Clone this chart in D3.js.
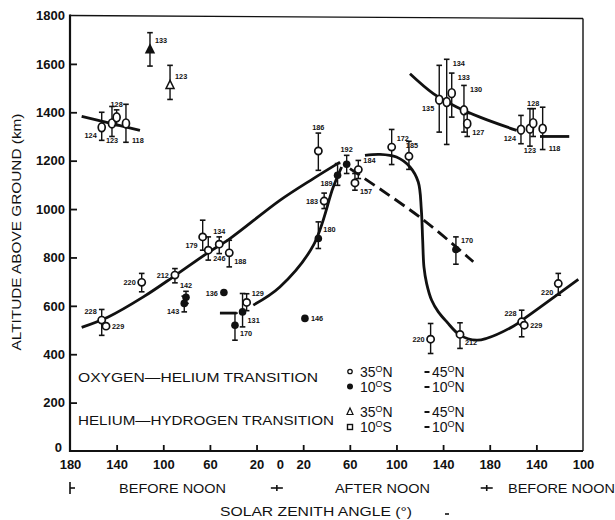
<!DOCTYPE html>
<html><head><meta charset="utf-8">
<script src="https://cdn.jsdelivr.net/npm/d3@7/dist/d3.min.js"></script>
<style>body{margin:0;background:#fff}svg{display:block}</style>
</head><body>
<svg id="c" width="615" height="520"></svg>
<script>
// ---------- axis ticks ----------
const xTickPeriod = ["BN","BN","BN","BN","BN","AN","AN","AN","AN","AN","AN","BN2","BN2"];
const xTickAngle  = [180,140,100,60,20,0,20,60,100,140,180,140,100];
const yTicks = [0,200,400,600,800,1000,1200,1400,1600,1800];

// ---------- Oxygen-Helium transition, 35°N (open circles) ----------
const oHe35Label  = ["228","229","220","212","179","246","134","188","129","186","183","157","184","172","185","220","212","228","229","220"];
const oHe35Period = ["BN","BN","BN","BN","BN","BN","BN","BN","BN","AN","AN","AN","AN","AN","AN","AN","AN","BN2","BN2","BN2"];
const oHe35Angle  = [152.8,149.1,118.5,90,66.2,61.4,52,43.4,28.5,33,38,64.4,67.3,95.9,110.7,129.3,154.5,152.6,150.4,121.2];
const oHe35Alt    = [541,516,697,727,885,830,855,819,614,1240,1033,1108,1163,1256,1218,462,482,534,520,692];
const oHe35Lo     = [478,null,658,695,830,789,816,761,580,1160,1002,1078,1126,1184,1164,403,424,472,null,644];
const oHe35Hi     = [585,null,734,754,954,885,885,871,650,1314,1066,1147,1201,1329,1280,527,530,582,null,734];

// ---------- Oxygen-Helium transition, 10°S (filled circles) ----------
const oHe10Label  = ["142","143","136","131","170","146","180","189","192","170"];
const oHe10Period = ["BN","BN","BN","BN","BN","AN","AN","AN","AN","AN"];
const oHe10Angle  = [80.5,82,48,32,38.5,21.5,33,49.5,57.3,151];
const oHe10Alt    = [635,610,655,575,520,548,878,1140,1185,833];
const oHe10Lo     = [610,575,null,513,458,null,837,1098,1147,772];
const oHe10Hi     = [660,640,null,651,570,null,947,1188,1222,885];

// ---------- Helium-Hydrogen transition, 35°N (triangles) ----------
const hH35Label  = ["133","123"];
const hH35Period = ["BN","BN"];
const hH35Angle  = [111.4,94.2];
const hH35Alt    = [1658,1511];
const hH35Lo     = [1591,1453];
const hH35Hi     = [1729,1594];

// ---------- Helium-Hydrogen transition, 10°S ----------
const hH10Label  = ["124","123","128","118","135","134","133","130","127","124","123","128","118"];
const hH10Period = ["BN","BN","BN","BN","AN","AN","AN","AN","AN","BN2","BN2","BN2","BN2"];
const hH10Angle  = [152.8,144,140,132,136.7,143.1,147.4,157.9,160.7,153.2,145.5,142.7,134.6];
const hH10Alt    = [1338,1354,1379,1354,1452,1442,1479,1408,1353,1328,1332,1355,1332];
const hH10Lo     = [1284,1300,1345,1276,1318,1267,1380,1318,1300,1270,1260,1300,1246];
const hH10Hi     = [1400,1424,1410,1433,1594,1619,1562,1511,1395,1387,1415,1415,1421];

// ---------- fitted curves: [period, angle, altitude] ----------
const curveO35a = [["BN",170,511],["BN",147.2,554],["BN",117.1,637],["BN",91.4,720],["BN",62.8,816],["BN",42.8,878],["AN",0,1036],["AN",28.7,1126],["AN",51.6,1194]];
const curveO35b = [["AN",73,1222],["AN",85.9,1226],["AN",100,1215],["AN",111.6,1174],["AN",118.7,1112],["AN",121.3,1000],["AN",122.5,870],["AN",123.6,760],["AN",125.9,692],["AN",130.2,623],["AN",135.9,575],["AN",143.1,534],["AN",154.5,479],["AN",168.8,458],["AN",177,465],["BN2",159.8,516],["BN2",148.3,554],["BN2",104,709]];
const curveO10a = [["BN",51.4,570],["BN",37.1,570]];
const curveO10b = [["BN",22.8,603],["AN",0,678],["AN",28.7,850],["AN",45.8,1091],["AN",53,1174]];
const curveO10c = [["AN",60.1,1167],["AN",121.6,961],["AN",165.9,782]];
const curveH10a = [["BN",170,1383],["BN",120,1325]];
const curveH10b = [["AN",111.6,1559],["AN",131.6,1477],["AN",151.6,1422],["AN",171.6,1380],["BN2",156.9,1325]];
const curveH10c = [["BN2",136.9,1300],["BN2",111.8,1300]];

// ---------- label placement codes (layout only) ----------
const oHe35Place = ["tl","r","l","l","bl","br","t","br","tr","t","l","br","tr","tr","tc","l","br","tl","r","bl"];
const oHe10Place = ["t","bl","l","br","br","r","tr","bl","t","tr"];
const hH35Place  = ["tr","tr"];
const hH10Place  = ["bl","b","t","rb","bl","rt","rt","rt","br","bl","b","t","rb"];

// ================= drawing =================
const svg = d3.select("#c");
const INK = "#111";
const FONT = "'Liberation Sans', Arial, sans-serif";
const L = 70, R = 583, T = 15.5, B = 451;
const uOf = (p,a) => p==="BN" ? 180-a : p==="AN" ? 180+a : 540-a;
const x = d3.scaleLinear().domain([0,440]).range([L,R]);
const y = d3.scaleLinear().domain([0,1800]).range([B,T]);

// frame
svg.append("line").attr("x1",L).attr("x2",L).attr("y1",T-1).attr("y2",B+1).attr("stroke",INK).attr("stroke-width",2.2);
svg.append("line").attr("x1",L).attr("x2",R).attr("y1",B).attr("y2",B).attr("stroke",INK).attr("stroke-width",2.2);
svg.append("line").attr("x1",L).attr("x2",R).attr("y1",T).attr("y2",T+3).attr("stroke",INK).attr("stroke-width",1.3);
svg.append("line").attr("x1",R).attr("x2",R).attr("y1",T+3).attr("y2",B).attr("stroke",INK).attr("stroke-width",1.4);

// y axis
const yAxis = d3.axisLeft(y).tickValues(yTicks).tickSize(-7).tickPadding(5).tickFormat(d3.format("d"));
const gy = svg.append("g").attr("transform",`translate(${L},0)`).call(yAxis);
gy.select(".domain").remove();
gy.selectAll(".tick line").attr("stroke",INK).attr("stroke-width",1.8).filter(d=>d===0||d===1800).remove();
gy.selectAll(".tick text").attr("font-family",FONT).attr("font-size",13).attr("font-weight","bold").attr("fill",INK)
  .filter(d=>d===0).attr("dy","0.05em").attr("x",-8);

// x axis
const xTickU = xTickPeriod.map((p,i)=>uOf(p,xTickAngle[i]));
const xAxis = d3.axisBottom(x).tickValues(xTickU).tickSize(-6).tickPadding(9).tickFormat((d,i)=>String(xTickAngle[i]));
const gx = svg.append("g").attr("transform",`translate(0,${B})`).call(xAxis);
gx.select(".domain").remove();
gx.selectAll(".tick line").attr("stroke",INK).attr("stroke-width",1.8).filter(d=>d===0||d===180||d===440).remove();
gx.selectAll(".tick text").attr("font-family",FONT).attr("font-size",13).attr("font-weight","bold").attr("fill",INK);

// curves
const line = d3.line().x(d=>x(uOf(d[0],d[1]))).y(d=>y(d[2])).curve(d3.curveCatmullRom.alpha(0.5));
function drawCurve(data, dashed){
  svg.append("path").attr("d",line(data)).attr("fill","none").attr("stroke",INK)
    .attr("stroke-width",2.8).attr("stroke-linecap","butt")
    .attr("stroke-dasharray",dashed?"12,6":null);
}
[curveO35a,curveO35b,curveO10a,curveO10b,curveH10a,curveH10b,curveH10c].forEach(c=>drawCurve(c,false));
drawCurve(curveO10c,true);

// series drawing
function series(labels, periods, angles, alts, lo, hi, place, shape){
  const g = svg.append("g");
  labels.forEach((lab,i)=>{
    const cx = x(uOf(periods[i],angles[i])), cy = y(alts[i]);
    if(lo[i]!=null){
      const y1 = y(hi[i]), y2 = y(lo[i]);
      g.append("line").attr("x1",cx).attr("x2",cx).attr("y1",y1).attr("y2",y2).attr("stroke",INK).attr("stroke-width",1.4);
      g.append("line").attr("x1",cx-2.8).attr("x2",cx+2.8).attr("y1",y1).attr("y2",y1).attr("stroke",INK).attr("stroke-width",1.6);
      g.append("line").attr("x1",cx-2.8).attr("x2",cx+2.8).attr("y1",y2).attr("y2",y2).attr("stroke",INK).attr("stroke-width",1.6);
    }
    shape(g,cx,cy,i);
    const p = place[i];
    let tx=cx, ty=cy, anchor="middle";
    const top = hi[i]!=null ? y(hi[i]) : cy-5;
    const bot = lo[i]!=null ? y(lo[i]) : cy+5;
    if(p==="l"){tx=cx-6;ty=cy+3;anchor="end";}
    else if(p==="r"){tx=cx+6;ty=cy+3;anchor="start";}
    else if(p==="tl"){tx=cx-5;ty=cy-6;anchor="end";}
    else if(p==="tr"){tx=cx+5;ty=cy-6.5;anchor="start";}
    else if(p==="bl"){tx=cx-5;ty=cy+11;anchor="end";}
    else if(p==="br"){tx=cx+5;ty=cy+11;anchor="start";}
    else if(p==="t"){ty=top-3;}
    else if(p==="tc"){tx=cx+3;ty=top+6.5;}
    else if(p==="b"){ty=bot+7;}
    else if(p==="rt"){tx=cx+6;ty=top+7;anchor="start";}
    else if(p==="rb"){tx=cx+6;ty=bot+1;anchor="start";}
    g.append("text").attr("x",tx).attr("y",ty).attr("text-anchor",anchor)
      .attr("font-family",FONT).attr("font-size",7.3).attr("font-weight","bold").attr("fill",INK).text(lab);
  });
}
const openCircle = (g,cx,cy)=>g.append("circle").attr("cx",cx).attr("cy",cy).attr("r",3.6).attr("fill","#fff").attr("stroke",INK).attr("stroke-width",1.7);
const filledCircle = (g,cx,cy)=>g.append("circle").attr("cx",cx).attr("cy",cy).attr("r",3.8).attr("fill",INK);
const ovalMark = (g,cx,cy)=>g.append("ellipse").attr("cx",cx).attr("cy",cy).attr("rx",3.5).attr("ry",4.4).attr("fill","#fff").attr("stroke",INK).attr("stroke-width",1.7);
const triFilled = [true,false];
const triangle = (g,cx,cy,i)=>g.append("path").attr("d",`M${cx},${cy-5}L${cx+4},${cy+3}L${cx-4},${cy+3}Z`)
  .attr("fill",triFilled[i]?INK:"#fff").attr("stroke",INK).attr("stroke-width",1.5);

series(oHe35Label,oHe35Period,oHe35Angle,oHe35Alt,oHe35Lo,oHe35Hi,oHe35Place,openCircle);
series(oHe10Label,oHe10Period,oHe10Angle,oHe10Alt,oHe10Lo,oHe10Hi,oHe10Place,filledCircle);
series(hH35Label,hH35Period,hH35Angle,hH35Alt,hH35Lo,hH35Hi,hH35Place,triangle);
series(hH10Label,hH10Period,hH10Angle,hH10Alt,hH10Lo,hH10Hi,hH10Place,ovalMark);

// ---------- legend ----------
function txt(xp,yp,s,size,opts={}){
  const t = svg.append("text").attr("x",xp).attr("y",yp).attr("font-family",FONT)
    .attr("font-size",size).attr("fill",INK).text(s);
  if(opts.len) t.attr("textLength",opts.len).attr("lengthAdjust","spacingAndGlyphs");
  if(opts.anchor) t.attr("text-anchor",opts.anchor);
  return t;
}
function latText(xp,yp,num,hemi){
  const t = svg.append("text").attr("x",xp).attr("y",yp).attr("font-family",FONT).attr("font-size",14).attr("fill",INK);
  t.append("tspan").text(num);
  t.append("tspan").attr("font-size",9).attr("dy",-5).text("O");
  t.append("tspan").attr("dy",5).text(hemi);
}
txt(78,382,"OXYGEN—HELIUM TRANSITION",13.5,{len:240});
txt(78,425,"HELIUM—HYDROGEN TRANSITION",13.5,{len:256});
latText(360,377,"35","N"); latText(360,392,"10","S");
latText(360,417,"35","N"); latText(360,432,"10","S");
latText(432,377,"45","N"); latText(432,392,"10","N");
latText(432,417,"45","N"); latText(432,432,"10","N");
svg.append("circle").attr("cx",350).attr("cy",371.5).attr("r",2.2).attr("fill","#fff").attr("stroke",INK).attr("stroke-width",1.3);
svg.append("circle").attr("cx",350).attr("cy",386.5).attr("r",3).attr("fill",INK);
svg.append("path").attr("d","M350,408 L353,414.5 L347,414.5Z").attr("fill","#fff").attr("stroke",INK).attr("stroke-width",1.2);
svg.append("rect").attr("x",347.5).attr("y",424.5).attr("width",5).attr("height",5).attr("fill","#fff").attr("stroke",INK).attr("stroke-width",1.4);
[372,387,412,427].forEach(yy=>svg.append("line").attr("x1",424.5).attr("x2",429.5).attr("y1",yy).attr("y2",yy).attr("stroke",INK).attr("stroke-width",2));

// ---------- bottom annotations ----------
txt(x(uOf("BN",92)),493,"BEFORE NOON",13,{anchor:"middle",len:107});
txt(x(uOf("AN",88)),493,"AFTER NOON",13,{anchor:"middle",len:95});
txt(508,493,"BEFORE NOON",13,{len:107});
const bx0 = x(uOf("BN",180)), bx1 = x(uOf("AN",0)) - 3, bx2 = x(uOf("AN",180)) - 3;
svg.append("line").attr("x1",bx0).attr("x2",bx0).attr("y1",482).attr("y2",494).attr("stroke",INK).attr("stroke-width",1.6);
svg.append("line").attr("x1",bx0).attr("x2",bx0+5).attr("y1",488).attr("y2",488).attr("stroke",INK).attr("stroke-width",1.6);
[bx1,bx2].forEach(bx=>{
  svg.append("line").attr("x1",bx-6).attr("x2",bx+6).attr("y1",488).attr("y2",488).attr("stroke",INK).attr("stroke-width",1.6);
  svg.append("line").attr("x1",bx).attr("x2",bx).attr("y1",485).attr("y2",491).attr("stroke",INK).attr("stroke-width",1.6);
});
txt(316,516,"SOLAR ZENITH ANGLE (°)",13,{anchor:"middle",len:192});
svg.append("line").attr("x1",445).attr("x2",449).attr("y1",514).attr("y2",514).attr("stroke",INK).attr("stroke-width",1.6);

// y title
svg.append("text").attr("transform","translate(21,232) rotate(-90)").attr("text-anchor","middle")
  .attr("font-family",FONT).attr("font-size",13).attr("fill",INK)
  .attr("textLength",237).attr("lengthAdjust","spacingAndGlyphs").text("ALTITUDE ABOVE GROUND (km)");
</script>
</body></html>
